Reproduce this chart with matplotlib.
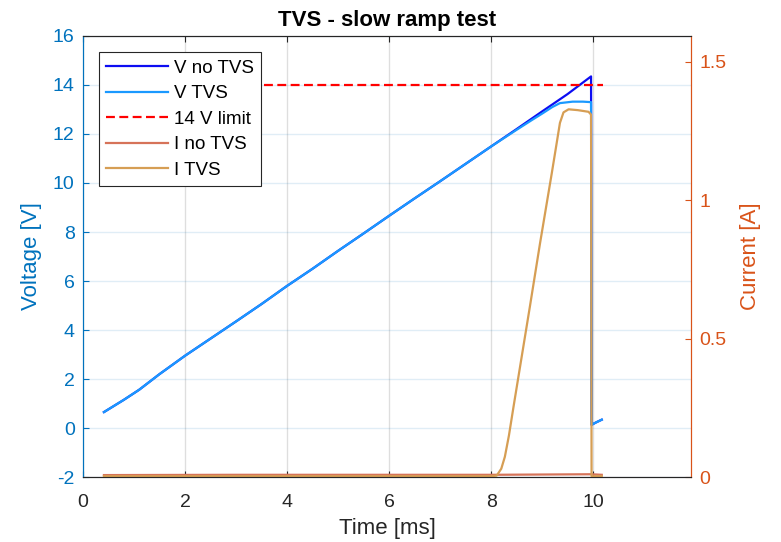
import numpy as np
import matplotlib
matplotlib.use('Agg')
import matplotlib.pyplot as plt

plt.rcParams['font.family'] = ['Liberation Sans', 'DejaVu Sans']
plt.rcParams['axes.unicode_minus'] = False

# datos
t_v = [0.41, 0.8, 1.1, 1.5, 2.0, 2.5, 3.0, 3.5, 4.0, 4.5, 5.0, 5.5, 6.0,
       6.5, 7.0, 7.5, 8.0, 8.5, 9.0, 9.5, 9.96, 9.97, 10.05, 10.17]
v_no_tvs = [0.65, 1.15, 1.56, 2.2, 2.95, 3.65, 4.35, 5.06, 5.8, 6.5, 7.23,
            7.94, 8.66, 9.37, 10.07, 10.78, 11.49, 12.2, 12.92, 13.63, 14.35,
            0.13, 0.22, 0.34]

t_vtvs = [0.41, 0.8, 1.1, 1.5, 2.0, 2.5, 3.0, 3.5, 4.0, 4.5, 5.0, 5.5, 6.0,
          6.5, 7.0, 7.5, 8.0, 8.5, 8.8, 9.0, 9.2, 9.35, 9.6, 9.8, 9.96, 9.97,
          10.05, 10.17]
v_tvs = [0.65, 1.15, 1.56, 2.2, 2.95, 3.65, 4.35, 5.06, 5.8, 6.5, 7.23,
         7.94, 8.66, 9.37, 10.07, 10.78, 11.49, 12.17, 12.57, 12.83, 13.1,
         13.26, 13.32, 13.32, 13.3, 0.13, 0.22, 0.34]

t_lim = [0.41, 10.2]
v_lim = [14, 14]

t_i_no = [0.41, 3.0, 6.0, 8.0, 9.96, 10.17]
i_no_tvs = [0.007, 0.008, 0.008, 0.008, 0.01, 0.008]

t_i = [0.41, 8.0, 8.11, 8.2, 8.27, 8.35, 8.44, 8.76, 8.96, 9.19, 9.28, 9.35,
       9.42, 9.52, 9.7, 9.91, 9.96, 9.97, 10.17]
i_tvs = [0.003, 0.003, 0.005, 0.03, 0.073, 0.15, 0.254, 0.615, 0.845, 1.098,
         1.2, 1.28, 1.318, 1.329, 1.326, 1.32, 1.31, 0.003, 0.003]

c_izq = (0, 0.447, 0.741)
c_der = (0.85, 0.325, 0.098)
gris = (0.15, 0.15, 0.15)

fig = plt.figure(figsize=(7.81, 5.42), dpi=100)
ax1 = fig.add_axes([0.1063, 0.1199, 0.7785, 0.8137])
ax2 = ax1.twinx()

l1, = ax1.plot(t_v, v_no_tvs, color=(0.05, 0.05, 0.95), lw=1.6, label='V no TVS')
l2, = ax1.plot(t_vtvs, v_tvs, color=(0.1, 0.6, 1.0), lw=1.6, label='V TVS')
l3, = ax1.plot(t_lim, v_lim, color='red', lw=1.6, dashes=(4, 2), label='14 V limit')
l4, = ax2.plot(t_i_no, i_no_tvs, color=(0.84, 0.45, 0.35), lw=1.6, label='I no TVS')
l5, = ax2.plot(t_i, i_tvs, color=(0.84, 0.62, 0.33), lw=1.6, label='I TVS')

ax1.set_xlim(0, 11.92)
ax1.set_ylim(-2, 16)
ax2.set_ylim(0, 1.594)
ax1.set_xticks([0, 2, 4, 6, 8, 10])
ax1.set_yticks(np.arange(-2, 17, 2))
ax2.set_yticks([0, 0.5, 1, 1.5])
ax2.set_yticklabels(['0', '0.5', '1', '1.5'])

# grilla
ax1.grid(True, axis='x', color=gris, alpha=0.15, lw=1)
ax1.grid(True, axis='y', color=c_izq, alpha=0.12, lw=1)
ax1.set_axisbelow(True)

# ejes estilo matlab
for ax in (ax1, ax2):
    ax.spines['top'].set_color(gris)
    ax.spines['bottom'].set_color(gris)
    ax.spines['left'].set_color(c_izq)
    ax.spines['right'].set_color(c_der)
ax1.tick_params(axis='x', direction='in', top=True, colors=gris, labelsize=14,
                length=4, pad=12)
ax1.tick_params(axis='y', direction='in', colors=c_izq, labelsize=14, length=4, pad=6)
ax2.tick_params(axis='y', direction='in', colors=c_der, labelsize=14, length=4, pad=6)

ax1.set_xlabel('Time [ms]', fontsize=16, color=gris, labelpad=5)
ax1.set_ylabel('Voltage [V]', fontsize=16, color=c_izq, labelpad=8)
ax2.set_ylabel('Current [A]', fontsize=16, color=c_der, labelpad=10)
ax1.set_title('TVS - slow ramp test', fontsize=16, fontweight='bold', pad=7)

leg = ax2.legend(handles=[l1, l2, l3, l4, l5], loc='upper left', fontsize=13.5,
                 frameon=True, fancybox=False, edgecolor=gris, framealpha=1,
                 handlelength=3.3, handletextpad=0.3, labelspacing=0.45,
                 borderaxespad=0.85, borderpad=0.4)
leg.get_frame().set_linewidth(0.8)

plt.savefig('out.png', dpi=100)
